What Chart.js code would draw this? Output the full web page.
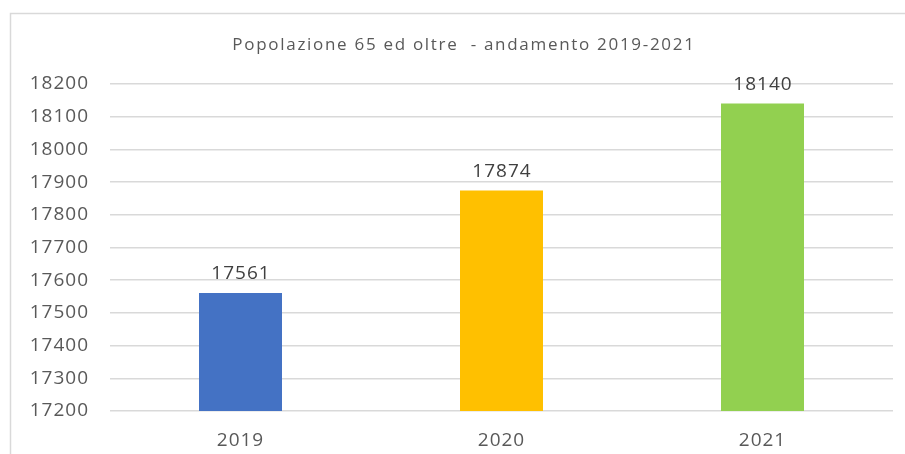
<!DOCTYPE html>
<html>
<head>
<meta charset="utf-8">
<script src="https://cdn.jsdelivr.net/npm/chart.js@4.4.0/dist/chart.umd.min.js"></script>
<style>
html,body{margin:0;padding:0;background:#fff;}
#wrap{position:relative;width:905px;height:454px;}
</style>
</head>
<body>
<div id="wrap"><canvas id="c" width="905" height="454"></canvas></div>
<script>
const categories = ["2019", "2020", "2021"];
const values = [17561, 17874, 18140];
const barColors = ["#4472C4", "#FFC000", "#92D050"];
const titleText = "Popolazione 65 ed oltre  - andamento 2019-2021";
const yMin = 17200, yMax = 18200, yStep = 100;

const FONT = "'Open Sans', sans-serif";
const GRAY = "#595959";

const frame = {
  id: "frame",
  beforeDraw(chart) {
    const ctx = chart.ctx;
    ctx.save();
    ctx.strokeStyle = "#d9d9d9";
    ctx.lineWidth = 1.5;
    ctx.beginPath();
    ctx.moveTo(10.5, 454);
    ctx.lineTo(10.5, 13.5);
    ctx.lineTo(905, 13.5);
    ctx.stroke();
    ctx.restore();
    // title
    ctx.save();
    ctx.letterSpacing = "1.7px";
    ctx.font = "17px " + FONT;
    ctx.fillStyle = GRAY;
    ctx.textAlign = "center";
    ctx.textBaseline = "middle";
    ctx.fillText(titleText, 464, 45);
    ctx.restore();
    ctx.letterSpacing = "1px";
  }
};

const valueLabels = {
  id: "valueLabels",
  afterDatasetsDraw(chart) {
    const ctx = chart.ctx;
    const meta = chart.getDatasetMeta(0);
    ctx.save();
    ctx.letterSpacing = "1px";
    ctx.font = "19px " + FONT;
    ctx.fillStyle = "#404040";
    ctx.textAlign = "center";
    ctx.textBaseline = "alphabetic";
    meta.data.forEach((bar, i) => {
      ctx.fillText(String(values[i]), bar.x + 0.5, bar.y - 14);
    });
    ctx.restore();
  }
};

new Chart(document.getElementById("c"), {
  type: "bar",
  data: {
    labels: categories,
    datasets: [{
      data: values,
      backgroundColor: barColors,
      borderWidth: 0,
      categoryPercentage: 1,
      barPercentage: 0.318
    }]
  },
  options: {
    responsive: false,
    animation: false,
    devicePixelRatio: 1,
    layout: { padding: { left: 12, right: 12, top: 84, bottom: 0 } },
    plugins: {
      legend: { display: false },
      tooltip: { enabled: false },
      title: { display: false }
    },
    scales: {
      x: {
        afterFit(scale) { scale.height = 43; },
        grid: { display: false, drawTicks: false },
        border: { display: false },
        ticks: { color: GRAY, font: { family: FONT, size: 19 }, padding: 18 }
      },
      y: {
        min: yMin,
        max: yMax,
        afterFit(scale) { scale.width = 98; },
        grid: { color: "#d9d9d9", lineWidth: 1.5, drawTicks: false },
        border: { display: false },
        ticks: {
          stepSize: yStep,
          color: GRAY,
          font: { family: FONT, size: 19 },
          padding: 21,
          callback: (v) => String(v)
        }
      }
    }
  },
  plugins: [frame, valueLabels]
});
</script>
</body>
</html>
